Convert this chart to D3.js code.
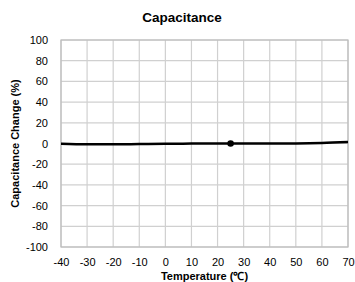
<!DOCTYPE html>
<html>
<head>
<meta charset="utf-8">
<script src="https://cdn.jsdelivr.net/npm/d3@7"></script>
<style>
  body { margin: 0; background: #fff; }
  text { font-family: "Liberation Sans", Arial, sans-serif; fill: #000; }
</style>
</head>
<body>
<svg id="chart" width="355" height="282"></svg>
<script>
const temps = [-40, -30, -20, -10, 0, 10, 20, 25, 30, 40, 50, 60, 70];
const capChange = [-0.3, -0.8, -0.8, -0.5, -0.2, -0.1, 0, 0, 0, 0, 0.1, 0.5, 1.4];
const refPoint = {t: 25, v: 0};
const xTicks = d3.range(-40, 71, 10);
const yTicks = d3.range(-100, 101, 20);

const svg = d3.select('#chart');
const margin = {left: 61, top: 40, right: 7, bottom: 35};
const width = 355 - margin.left - margin.right;
const height = 282 - margin.top - margin.bottom;
const g = svg.append('g').attr('transform', `translate(${margin.left},${margin.top})`);

const x = d3.scaleLinear().domain([-40, 70]).range([0, width]);
const y = d3.scaleLinear().domain([-100, 100]).range([height, 0]);

// grid
g.append('g').selectAll('line').data(xTicks).join('line')
  .attr('x1', d => x(d)).attr('x2', d => x(d))
  .attr('y1', 0).attr('y2', height)
  .attr('stroke', '#d0d0d0').attr('stroke-width', 1.2);
g.append('g').selectAll('line').data(yTicks).join('line')
  .attr('x1', 0).attr('x2', width)
  .attr('y1', d => y(d)).attr('y2', d => y(d))
  .attr('stroke', '#d0d0d0').attr('stroke-width', 1.2);

g.append('rect')
  .attr('width', width).attr('height', height)
  .attr('fill', 'none').attr('stroke', '#bdbdbd').attr('stroke-width', 1.2);

// axes, plain hyphen for negatives like the original
const fmt = d => String(d);
const xAxis = g.append('g').attr('transform', `translate(0,${height})`)
  .call(d3.axisBottom(x).tickValues(xTicks).tickFormat(fmt).tickSize(0).tickPadding(11));
const yAxis = g.append('g')
  .call(d3.axisLeft(y).tickValues(yTicks).tickFormat(fmt).tickSize(0).tickPadding(13));
[xAxis, yAxis].forEach(a => {
  a.select('.domain').remove();
  a.selectAll('text').attr('font-size', 11).style('font-family', '"Liberation Sans", Arial, sans-serif').attr('fill', '#000');
});

// curve
const line = d3.line().x((d, i) => x(temps[i])).y(d => y(d)).curve(d3.curveMonotoneX);
g.append('path').datum(capChange)
  .attr('d', line)
  .attr('fill', 'none').attr('stroke', '#000').attr('stroke-width', 2.5);

g.append('circle')
  .attr('cx', x(refPoint.t)).attr('cy', y(refPoint.v)).attr('r', 3.3)
  .attr('fill', '#000');

// titles
svg.append('text')
  .attr('x', 182).attr('y', 22)
  .attr('text-anchor', 'middle').attr('font-size', 13.5).attr('font-weight', 'bold')
  .text('Capacitance');

svg.append('text')
  .attr('x', margin.left + width / 2).attr('y', 280)
  .attr('text-anchor', 'middle').attr('font-size', 11).attr('font-weight', 'bold')
  .text('Temperature (℃)');

svg.append('text')
  .attr('transform', `translate(19,${margin.top + height / 2}) rotate(-90)`)
  .attr('text-anchor', 'middle').attr('font-size', 11).attr('font-weight', 'bold')
  .text('Capacitance Change (%)');
</script>
</body>
</html>
